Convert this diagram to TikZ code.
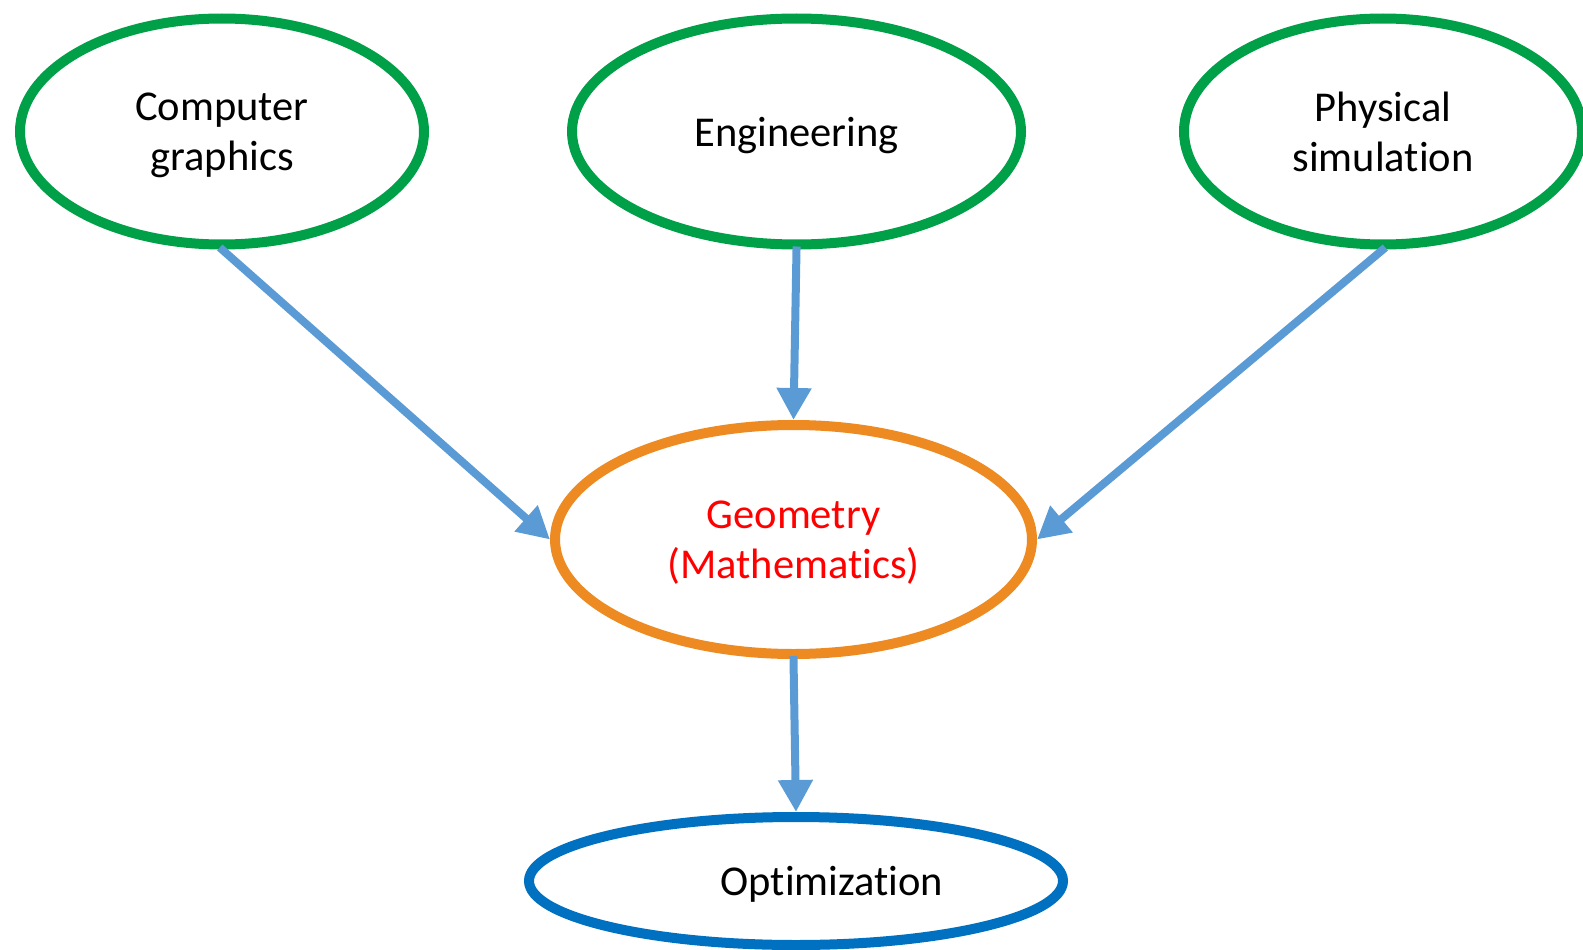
\documentclass[tikz,border=0pt]{standalone}
\usepackage{fontspec}
\setmainfont{Carlito}[Ligatures=NoCommon]
\usepackage{xcolor}
\usetikzlibrary{arrows.meta,shapes.geometric,positioning}
\definecolor{verde}{RGB}{0,160,72}
\definecolor{naranja}{RGB}{237,139,34}
\definecolor{azul}{RGB}{0,112,192}
\definecolor{celeste}{RGB}{91,155,213}
\tikzset{
  texto/.style={font=\fontsize{42.5}{50}\selectfont,align=center,inner sep=0pt,text depth=0pt},
  campo/.style={ellipse,draw=verde,line width=10pt,minimum width=404pt,minimum height=226pt,inner sep=0pt,texto},
  centro/.style={ellipse,draw=naranja,line width=10pt,minimum width=477pt,minimum height=229pt,inner sep=0pt,texto,text=red},
  meta/.style={ellipse,draw=azul,line width=10pt,minimum width=534pt,minimum height=128pt,inner sep=0pt},
  flecha/.style={-{Triangle[length=32pt,width=33pt]},celeste,line width=8pt,shorten <=-3pt}
}
\begin{document}
\begin{tikzpicture}[x=1pt,y=-1pt]
\useasboundingbox (0,0) rectangle (1583,950);
\node[campo] (cg) at (222,131.5) {Computer\\graphics};
\node[campo,minimum width=449pt] (eng) at (796.5,131.5) {Engineering};
\node[campo,minimum width=398pt] (phys) at (1383,131.5) {Physical\\simulation};
\node[centro] (geo) at (793.5,539.5) {Geometry\\(Mathematics)};
\node[meta] (opt) at (796,881) {};
\node[texto] (optlbl) at (832,881) {Optimization};
\draw[flecha] (cg.south) -- (geo.west);
\draw[flecha] (eng.south) -- (geo.north);
\draw[flecha] (phys.south) -- (geo.east);
\draw[flecha] (geo.south) -- (opt.north);
\end{tikzpicture}
\end{document}
